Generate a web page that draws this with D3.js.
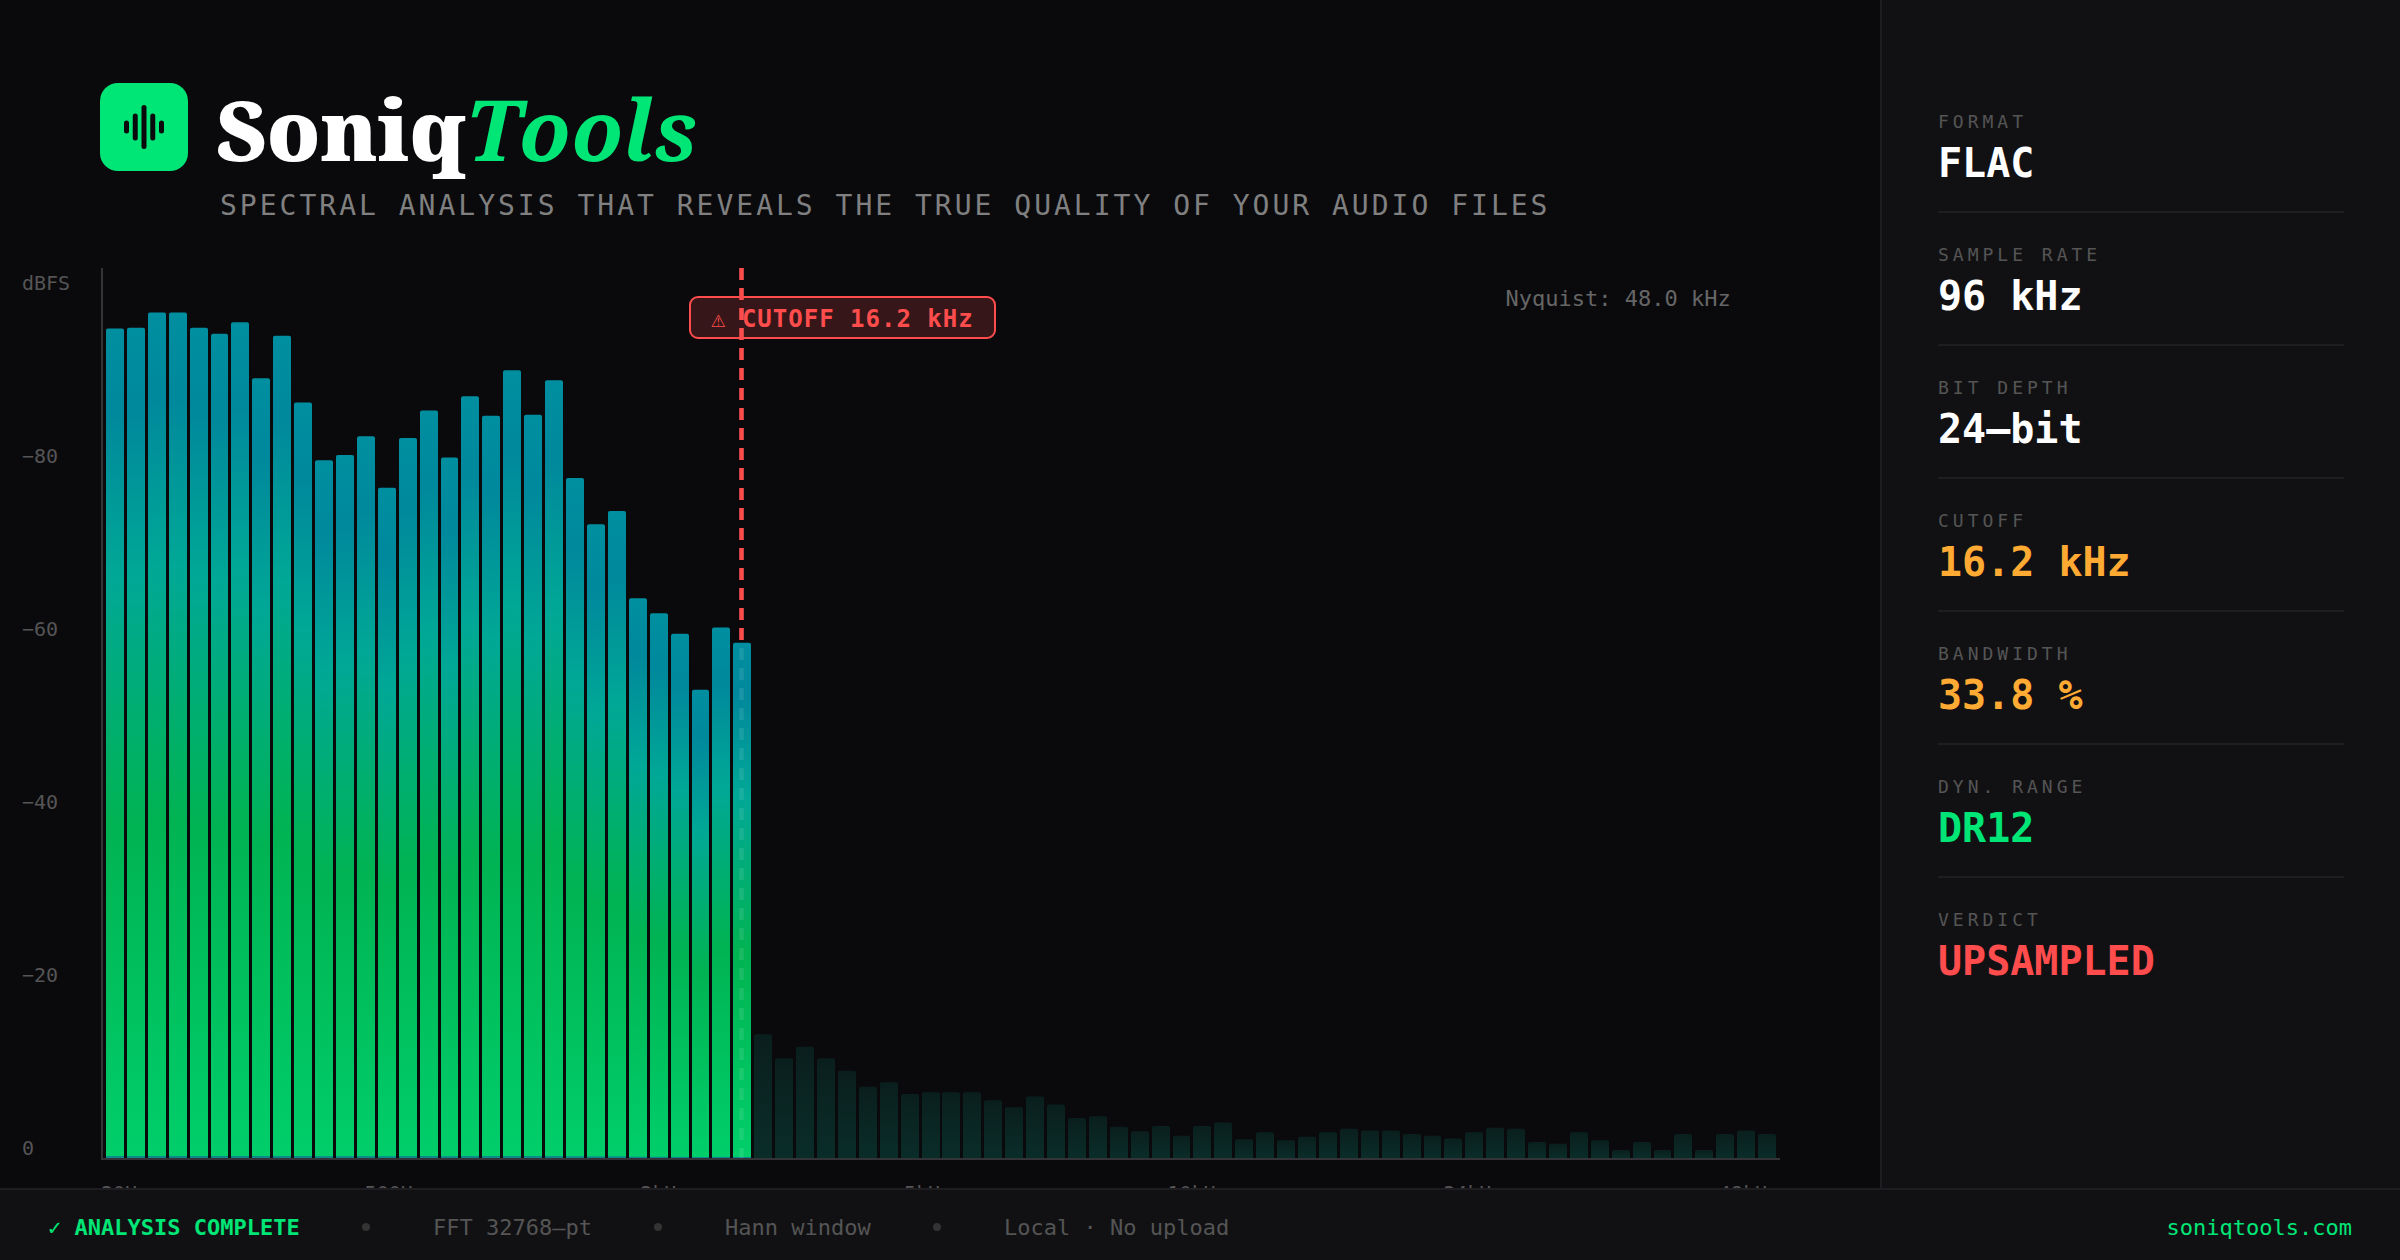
<!DOCTYPE html>
<html><head><meta charset="utf-8">
<script src="https://cdn.jsdelivr.net/npm/d3@7/dist/d3.min.js"></script>
<style>html,body{margin:0;padding:0;background:#0a0a0d;overflow:hidden}svg{display:block}</style>
</head><body><svg id="c" width="2400" height="1260"></svg>
<script>
const levels=[93.2,93.3,95.0,95.0,93.3,92.6,93.9,87.6,92.4,84.9,78.4,79.0,81.1,75.3,80.9,84.0,78.7,85.6,83.4,88.5,83.5,87.4,76.4,71.2,72.7,62.9,61.2,58.9,52.6,59.6,57.9,13.9,11.2,12.5,11.2,9.8,8.0,8.5,7.2,7.4,7.4,7.4,6.5,5.7,6.9,6.0,4.5,4.7,3.5,3.0,3.6,2.5,3.6,4.0,2.1,2.9,2.0,2.4,2.9,3.3,3.1,3.1,2.7,2.5,2.2,2.9,3.4,3.3,1.8,1.6,2.9,2.0,0.9,1.8,0.9,2.7,0.9,2.7,3.1,2.7];
const cutoffIndex=31;
const yLabels=["dBFS","−80","−60","−40","−20","0"];
const xLabels=["20Hz","500Hz","2kHz","5kHz","10kHz","24kHz","48kHz"];
const statLabels=["FORMAT","SAMPLE RATE","BIT DEPTH","CUTOFF","BANDWIDTH","DYN. RANGE","VERDICT"];
const statValues=["FLAC","96 kHz","24–bit","16.2 kHz","33.8 %","DR12","UPSAMPLED"];
const statColors=["#ffffff","#ffffff","#ffffff","#ffaa33","#ffaa33","#00e676","#ff4d4d"];
const footerItems=["FFT 32768–pt","Hann window","Local · No upload"];
const waveBars=[13,27,44,27,13];
const mono="'DejaVu Sans Mono',monospace", serif="'Noto Serif',serif";
const svg=d3.select("#c");
const defs=svg.append("defs");
const g1=defs.append("linearGradient").attr("id","live").attr("x1",0).attr("x2",0).attr("y1",0).attr("y2",1);
[[0,"#008fa0"],[.1,"#00889c"],[.3,"#00a896"],[.6,"#00b352"],[.997,"#00ce6a"],[.998,"#0a8a8a"]].forEach(s=>g1.append("stop").attr("offset",s[0]).attr("stop-color",s[1]));
const g2=defs.append("linearGradient").attr("id","dead").attr("x1",0).attr("x2",0).attr("y1",0).attr("y2",1);
[[0,"#0a1f1d"],[1,"#0a2d29"]].forEach(s=>g2.append("stop").attr("offset",s[0]).attr("stop-color",s[1]));

svg.append("rect").attr("width",2400).attr("height",1260).attr("fill","#0a0a0d");
svg.append("rect").attr("x",100).attr("y",83).attr("width",88).attr("height",88).attr("rx",18).attr("fill","#00e676");
const wx=d3.scalePoint().domain(d3.range(waveBars.length)).range([126.5,161.5]);
svg.selectAll(".w").data(waveBars).enter().append("rect").attr("x",(d,i)=>wx(i)-2.5).attr("width",5).attr("rx",2.5)
 .attr("y",d=>127-d/2).attr("height",d=>d).attr("fill","#0a0a0d");
const title=svg.append("text").attr("x",216).attr("y",161).attr("font-family",serif).attr("font-size",84);
title.append("tspan").attr("fill","#fff").attr("font-weight",900).text("Soniq");
title.append("tspan").attr("fill","#00e676").attr("font-style","italic").attr("font-weight",700).attr("letter-spacing",.6).text("Tools");
svg.append("text").attr("x",220).attr("y",214.5).attr("font-family",mono).attr("font-size",28).attr("letter-spacing",3).attr("fill","#808080").text("SPECTRAL ANALYSIS THAT REVEALS THE TRUE QUALITY OF YOUR AUDIO FILES");

const x=d3.scaleBand().domain(d3.range(levels.length)).range([104.5,1777.5]).paddingInner(.143).paddingOuter(.07);
const y=d3.scaleLinear().domain([0,100]).range([1158,268]);
const bars=svg.append("g");
bars.selectAll("path").data(levels).enter().append("path")
 .attr("fill",(d,i)=>i<cutoffIndex?"url(#live)":"url(#dead)")
 .attr("d",(d,i)=>{const l=Math.round(x(i)),r=Math.round(x(i)+x.bandwidth()),t=y(d),b=y(0),k=2;
  return `M${l},${b}V${t+k}Q${l},${t} ${l+k},${t}H${r-k}Q${r},${t} ${r},${t+k}V${b}Z`;});
svg.append("line").attr("x1",102).attr("x2",102).attr("y1",268).attr("y2",1160).attr("stroke","#333338").attr("stroke-width",2);
svg.append("line").attr("x1",101).attr("x2",1780).attr("y1",1159).attr("y2",1159).attr("stroke","#333338").attr("stroke-width",2);
const yl=d3.scalePoint().domain(yLabels).range([283,1148]);
svg.selectAll(".yl").data(yLabels).enter().append("text").attr("x",22).attr("y",d=>yl(d)+7).attr("font-family",mono).attr("font-size",20).attr("fill","#555").text(d=>d);
const charW=12.04, widths=xLabels.map(d=>d.length*charW), gap=(1678-d3.sum(widths))/(xLabels.length-1);
svg.selectAll(".xl").data(xLabels).enter().append("text").attr("x",(d,i)=>101+d3.sum(widths.slice(0,i))+gap*i).attr("y",1200).attr("font-family",mono).attr("font-size",20).attr("fill","#555").text(d=>d);
const lineAttrs=s=>s.attr("x1",741.5).attr("x2",741.5).attr("y1",268).attr("stroke-width",4.5).attr("stroke-dasharray","12,8");
lineAttrs(svg.append("line")).attr("y2",1158).attr("stroke","#fff").attr("stroke-opacity",.1);
lineAttrs(svg.append("line")).attr("y2",y(levels[cutoffIndex-1])).attr("stroke","#ff4d4d");
svg.append("rect").attr("x",690).attr("y",297).attr("width",305).attr("height",41).attr("rx",8).attr("fill","#ff4d4d").attr("fill-opacity",.18).attr("stroke","#ff4d4d").attr("stroke-width",2);
svg.append("text").attr("x",711).attr("y",327).attr("font-family",mono).attr("font-size",24).attr("font-weight",700).attr("letter-spacing",1).attr("fill","#ff4d4d").text("⚠ CUTOFF 16.2 kHz");
svg.append("text").attr("x",1505.5).attr("y",306).attr("font-family",mono).attr("font-size",22).attr("fill","#666").text("Nyquist: 48.0 kHz");

svg.append("rect").attr("x",1880).attr("y",0).attr("width",520).attr("height",1188).attr("fill","#111114");
svg.append("rect").attr("x",1880).attr("y",0).attr("width",2).attr("height",1188).attr("fill","#1e1e22");
const sy=d3.scalePoint().domain(statLabels).range([0,798]);
const sg=svg.selectAll(".s").data(statLabels).enter().append("g").attr("transform",d=>`translate(1938,${sy(d)})`);
sg.append("text").attr("y",128).attr("font-family",mono).attr("font-size",18).attr("letter-spacing",4).attr("fill","#555").text(d=>d);
sg.append("text").attr("y",177).attr("font-family",mono).attr("font-size",40).attr("font-weight",700).attr("fill",(d,i)=>statColors[i]).text((d,i)=>statValues[i]);
sg.filter((d,i)=>i<6).append("rect").attr("y",211).attr("width",406).attr("height",2).attr("fill","#1e1e22");

svg.append("rect").attr("x",0).attr("y",1188).attr("width",2400).attr("height",72).attr("fill","#111114");
svg.append("rect").attr("x",0).attr("y",1188).attr("width",2400).attr("height",2).attr("fill","#1e1e22");
svg.append("text").attr("x",48).attr("y",1235).attr("font-family",mono).attr("font-size",22).attr("font-weight",700).attr("fill","#00e676").text("✓ ANALYSIS COMPLETE");
const fx=[433,725,1004], dx=[366,658,937];
svg.selectAll(".fi").data(footerItems).enter().append("text").attr("x",(d,i)=>fx[i]).attr("y",1235).attr("font-family",mono).attr("font-size",22).attr("fill","#555").text(d=>d);
svg.selectAll(".fd").data(footerItems).enter().append("circle").attr("cx",(d,i)=>dx[i]).attr("cy",1227).attr("r",4).attr("fill","#333");
svg.append("text").attr("x",2352).attr("y",1235).attr("text-anchor","end").attr("font-family",mono).attr("font-size",22).attr("fill","#00e676").text("soniqtools.com");
</script></body></html>
